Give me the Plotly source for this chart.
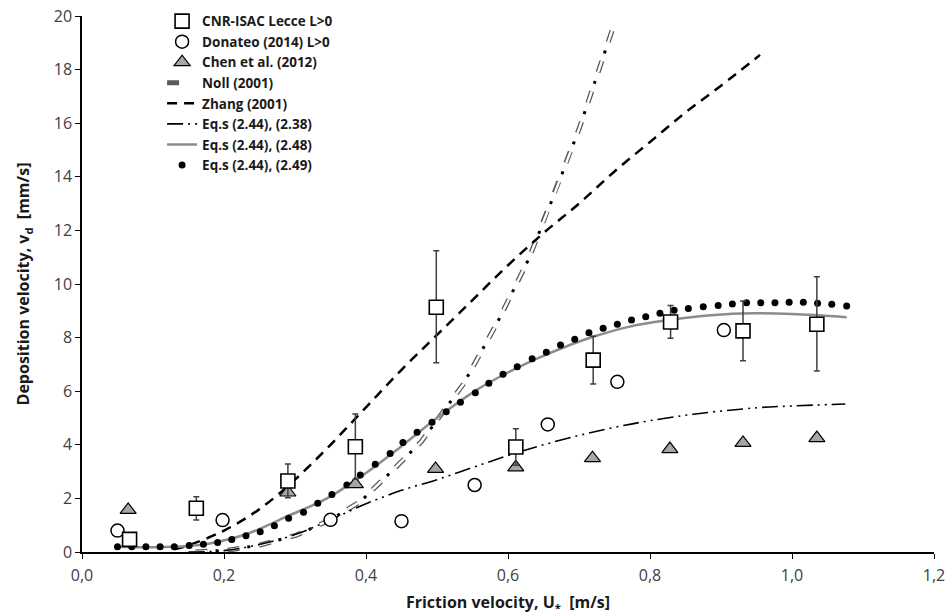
import plotly.graph_objects as go

# ---- data ----
cnr_x = [0.067, 0.161, 0.29, 0.385, 0.499, 0.611, 0.72, 0.829, 0.931, 1.035]
cnr_y = [0.47, 1.63, 2.65, 3.93, 9.13, 3.92, 7.16, 8.58, 8.25, 8.50]
cnr_err_plus = [0.0, 0.43, 0.63, 1.22, 2.11, 0.68, 0.89, 0.62, 1.12, 1.77]
cnr_err_minus = [0.0, 0.44, 0.63, 1.22, 2.07, 0.68, 0.89, 0.60, 1.11, 1.75]

don_x = [0.05, 0.198, 0.35, 0.45, 0.553, 0.656, 0.754, 0.904]
don_y = [0.80, 1.19, 1.20, 1.15, 2.50, 4.76, 6.35, 8.28]

chen_x = [0.065, 0.29, 0.385, 0.498, 0.611, 0.719, 0.828, 0.931, 1.035]
chen_y = [1.57, 2.22, 2.53, 3.10, 3.16, 3.50, 3.84, 4.07, 4.25]

noll_x = [0.16, 0.206, 0.251, 0.302, 0.349, 0.392, 0.438, 0.478, 0.537, 0.585, 0.629, 0.666, 0.701, 0.748]
noll_y = [0.0, 0.07, 0.26, 0.63, 1.19, 1.88, 3.06, 4.12, 6.26, 8.56, 10.92, 13.4, 15.85, 19.57]

zhang_x = [0.13, 0.15, 0.2, 0.25, 0.3, 0.35, 0.4, 0.45, 0.5, 0.55, 0.6, 0.65, 0.7, 0.75, 0.8, 0.85, 0.9, 0.955]
zhang_y = [0.1, 0.25, 0.8, 1.6, 2.7, 4.0, 5.4, 6.8, 8.1, 9.4, 10.7, 11.9, 13.0, 14.2, 15.3, 16.4, 17.4, 18.55]

eq38_x = [0.15, 0.2, 0.25, 0.3, 0.35, 0.4, 0.45, 0.5, 0.55, 0.6, 0.65, 0.7, 0.75, 0.8, 0.87, 0.95, 1.0, 1.075]
eq38_y = [0.0, 0.05, 0.28, 0.65, 1.2, 1.8, 2.3, 2.7, 3.15, 3.6, 4.0, 4.35, 4.65, 4.9, 5.17, 5.38, 5.45, 5.52]

eq48_x = [0.05, 0.1, 0.15, 0.18, 0.232, 0.288, 0.345, 0.4, 0.45, 0.5, 0.556, 0.6, 0.636, 0.68, 0.72, 0.77, 0.828, 0.87, 0.93, 1.0, 1.077]
eq48_y = [0.2, 0.18, 0.22, 0.32, 0.67, 1.32, 2.0, 2.95, 3.95, 5.0, 6.05, 6.7, 7.16, 7.65, 8.03, 8.4, 8.66, 8.8, 8.9, 8.88, 8.76]

eq49_x = [0.05, 0.07, 0.09, 0.11, 0.13, 0.151, 0.171, 0.191, 0.211, 0.231, 0.251, 0.271, 0.291,
          0.312, 0.332, 0.352, 0.373, 0.392, 0.413, 0.434, 0.452, 0.472, 0.493, 0.513, 0.533,
          0.554, 0.573, 0.593, 0.613, 0.634, 0.654, 0.674, 0.694, 0.714, 0.734, 0.754, 0.774,
          0.794, 0.814, 0.834, 0.854, 0.875, 0.896, 0.916, 0.936, 0.956, 0.976, 0.996, 1.016,
          1.036, 1.056, 1.077]
eq49_y = [0.20, 0.20, 0.20, 0.20, 0.20, 0.24, 0.29, 0.35, 0.47, 0.61, 0.76, 0.98, 1.26,
          1.48, 1.82, 2.15, 2.50, 2.87, 3.27, 3.68, 4.09, 4.47, 4.84, 5.23, 5.59,
          5.94, 6.30, 6.63, 6.91, 7.21, 7.45, 7.72, 7.94, 8.18, 8.35, 8.50, 8.66,
          8.78, 8.91, 9.02, 9.09, 9.15, 9.20, 9.25, 9.30, 9.30, 9.30, 9.32, 9.32,
          9.28, 9.24, 9.18]

x_ticks = [0.0, 0.2, 0.4, 0.6, 0.8, 1.0, 1.2]
y_ticks = [0, 2, 4, 6, 8, 10, 12, 14, 16, 18, 20]

FONT = "Open Sans, sans-serif"

fig = go.Figure()

# Lines
fig.add_trace(go.Scatter(x=noll_x, y=noll_y, mode="lines", name="<b>Noll (2001)</b>",
                         line=dict(color="#5a5a5a", width=5, dash="12px,20px"),
                         legendrank=4))
fig.add_trace(go.Scatter(x=noll_x, y=noll_y, mode="lines", showlegend=False, hoverinfo="skip",
                         line=dict(color="white", width=2.4, dash="12px,20px")))
fig.add_trace(go.Scatter(x=noll_x, y=noll_y, mode="lines", showlegend=False, hoverinfo="skip",
                         line=dict(color="black", width=3, dash="0px,20px,3px,9px")))

fig.add_trace(go.Scatter(x=zhang_x, y=zhang_y, mode="lines", name="<b>Zhang (2001)</b>",
                         line=dict(color="black", width=2.5, dash="10px,7px", shape="spline"),
                         legendrank=5))
fig.add_trace(go.Scatter(x=eq38_x, y=eq38_y, mode="lines", name="<b>Eq.s (2.44), (2.38)</b>",
                         line=dict(color="black", width=1.6, dash="16px,5px,2px,5px,2px,5px", shape="spline"),
                         legendrank=6))
fig.add_trace(go.Scatter(x=eq48_x, y=eq48_y, mode="lines", name="<b>Eq.s (2.44), (2.48)</b>",
                         line=dict(color="#8c8c8c", width=2.5, shape="spline"),
                         legendrank=7))
fig.add_trace(go.Scatter(x=eq49_x, y=eq49_y, mode="markers", name="<b>Eq.s (2.44), (2.49)</b>",
                         marker=dict(color="black", size=7, symbol="circle"),
                         legendrank=8))

# Data points
fig.add_trace(go.Scatter(x=chen_x, y=chen_y, mode="markers", name="<b>Chen et al. (2012)</b>",
                         marker=dict(symbol="triangle-up", size=14, color="#a6a6a6",
                                     line=dict(color="black", width=1.2)),
                         legendrank=3))
fig.add_trace(go.Scatter(x=don_x, y=don_y, mode="markers", name="<b>Donateo (2014) L>0</b>",
                         marker=dict(symbol="circle", size=13, color="white",
                                     line=dict(color="black", width=1.5)),
                         legendrank=2))
fig.add_trace(go.Scatter(x=cnr_x, y=cnr_y, mode="markers", name="<b>CNR-ISAC Lecce L>0</b>",
                         marker=dict(symbol="square", size=14, color="white",
                                     line=dict(color="black", width=1.6)),
                         error_y=dict(type="data", symmetric=False, array=cnr_err_plus,
                                      arrayminus=cnr_err_minus, color="#404040",
                                      thickness=1.5, width=3),
                         legendrank=1))

fig.update_layout(
    width=952, height=616,
    margin=dict(l=82, r=18, t=16, b=64, autoexpand=False),
    paper_bgcolor="white", plot_bgcolor="white",
    font=dict(family=FONT, size=15, color="#404040"),
    separators=", ",
    showlegend=True,
    legend=dict(x=0.094, y=1.019, xanchor="left", yanchor="top",
                bgcolor="rgba(0,0,0,0)", font=dict(family=FONT, size=13.5, color="#1a1a1a"),
                traceorder="normal", tracegroupgap=0, itemwidth=30),
    xaxis=dict(range=[0, 1.2], tickvals=x_ticks, tickformat=".1f",
               showgrid=False, zeroline=False, showline=True, linecolor="black", linewidth=1.5,
               ticks="outside", ticklen=5, tickcolor="black", tickwidth=1.2,
               ticklabelstandoff=3,
               tickfont=dict(size=16, color="#404040"),
               title=dict(text="<b>Friction velocity, U<sub>*</sub>\u00a0\u00a0[m/s]</b>",
                          font=dict(size=16, color="#1a1a1a"), standoff=12)),
    yaxis=dict(range=[0, 20], tickvals=y_ticks,
               showgrid=False, zeroline=False, showline=True, linecolor="black", linewidth=1.5,
               ticks="outside", ticklen=5, tickcolor="black", tickwidth=1.2,
               tickfont=dict(size=16, color="#404040"),
               title=dict(text="<b>Deposition velocity, v<sub>d</sub>\u00a0\u00a0[mm/s]</b>",
                          font=dict(size=16, color="#1a1a1a"), standoff=20)),
)

fig.write_html("out.html")
